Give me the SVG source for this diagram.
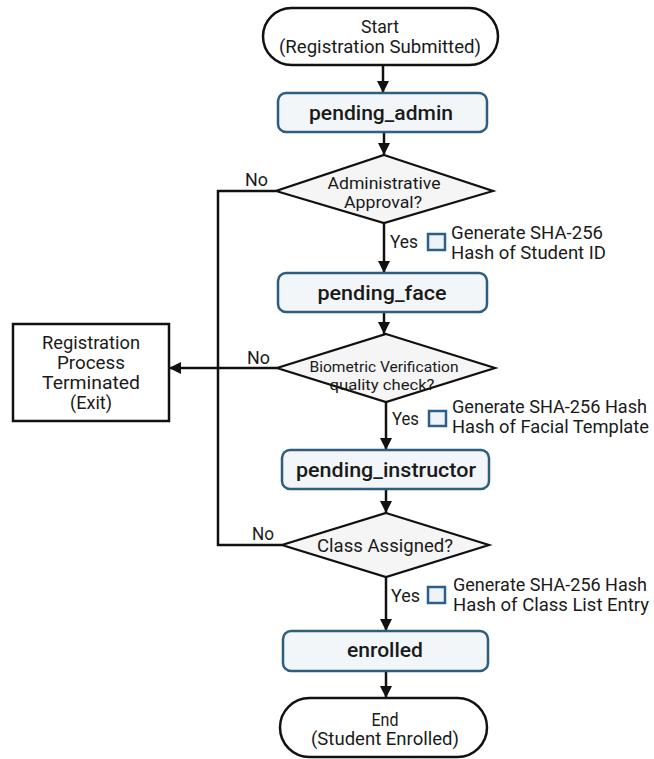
<svg xmlns="http://www.w3.org/2000/svg" width="654" height="759" viewBox="0 0 654 759">
<style>
text{font-family:Roboto,"Liberation Sans",sans-serif;fill:#1a1a1a;text-anchor:middle}
.t{font-size:18px}
.st{font-size:21px;font-weight:500}
.dq{font-size:17px}
.lb{font-size:18px;text-anchor:start}
.hs{font-size:18.5px;text-anchor:start}
.term{fill:#ffffff;stroke:#111;stroke-width:2.5}
.state{fill:#f2f6f9;stroke:#2f5d80;stroke-width:2.5}
.dia{fill:#f5f5f5;stroke:#111;stroke-width:2.2}
.box{fill:#ffffff;stroke:#111;stroke-width:2.5}
.chk{fill:#eef3f7;stroke:#2b5f8c;stroke-width:2.5}
.ln{fill:none;stroke:#111;stroke-width:2.5}
</style>
<defs>
<marker id="ah" viewBox="0 0 12 12" refX="12" refY="6" markerWidth="12" markerHeight="12" markerUnits="userSpaceOnUse" orient="auto"><path d="M0,0 L12,6 L0,12 z" fill="#111"/></marker>
</defs>
<rect width="654" height="759" fill="#ffffff"/>
<g id="connectors">
<path class="ln" d="M383,65 V93" marker-end="url(#ah)"/>
<path class="ln" d="M384,132 V155" marker-end="url(#ah)"/>
<path class="ln" d="M384,223 V273" marker-end="url(#ah)"/>
<path class="ln" d="M384,312 V334" marker-end="url(#ah)"/>
<path class="ln" d="M386,402 V450" marker-end="url(#ah)"/>
<path class="ln" d="M386,489 V513" marker-end="url(#ah)"/>
<path class="ln" d="M386,577 V631" marker-end="url(#ah)"/>
<path class="ln" d="M386,671 V698" marker-end="url(#ah)"/>
<path class="ln" d="M276,191 H218 V545 H282"/>
<path class="ln" d="M277,368 H169" marker-end="url(#ah)"/>
<text class="lb" x="245" y="186" textLength="23" lengthAdjust="spacingAndGlyphs">No</text>
<text class="lb" x="247" y="364" textLength="23" lengthAdjust="spacingAndGlyphs">No</text>
<text class="lb" x="252" y="540" textLength="22" lengthAdjust="spacingAndGlyphs">No</text>
<text class="lb" x="390" y="248" textLength="28" lengthAdjust="spacingAndGlyphs">Yes</text>
<text class="lb" x="392" y="425" textLength="27" lengthAdjust="spacingAndGlyphs">Yes</text>
<text class="lb" x="391" y="602" textLength="29" lengthAdjust="spacingAndGlyphs">Yes</text>
</g>
<g id="start">
<rect class="term" x="263" y="8" width="235" height="57" rx="28.5"/>
<text class="t" x="380" y="33" textLength="38" lengthAdjust="spacingAndGlyphs">Start</text>
<text class="t" x="380" y="53" textLength="202" lengthAdjust="spacingAndGlyphs">(Registration Submitted)</text>
</g>
<g id="pending_admin">
<rect class="state" x="278" y="93" width="209" height="39" rx="8"/>
<text class="st" x="381" y="120" textLength="144" lengthAdjust="spacingAndGlyphs">pending_admin</text>
</g>
<g id="admin_approval">
<polygon class="dia" points="384,155 493,191 384,223 276,191"/>
<text class="dq" x="384" y="189" textLength="113" lengthAdjust="spacingAndGlyphs">Administrative</text>
<text class="dq" x="383" y="208" textLength="78" lengthAdjust="spacingAndGlyphs">Approval?</text>
</g>
<g id="hash_student">
<rect class="chk" x="428" y="234" width="17" height="16"/>
<text class="hs" x="451" y="239" textLength="152" lengthAdjust="spacingAndGlyphs">Generate SHA-256</text>
<text class="hs" x="451" y="259" textLength="155" lengthAdjust="spacingAndGlyphs">Hash of Student ID</text>
</g>
<g id="pending_face">
<rect class="state" x="278" y="273" width="209" height="39" rx="8"/>
<text class="st" x="382" y="300" textLength="129" lengthAdjust="spacingAndGlyphs">pending_face</text>
</g>
<g id="biometric">
<polygon class="dia" points="386,334 495,368 386,402 277,368"/>
<text class="dq" x="384" y="372" style="font-size:15px" textLength="149" lengthAdjust="spacingAndGlyphs">Biometric Verification</text>
<text class="dq" x="382" y="390" style="font-size:15px" textLength="105" lengthAdjust="spacingAndGlyphs">quality check?</text>
</g>
<g id="terminated">
<rect class="box" x="13" y="324" width="156" height="97"/>
<text class="t" x="91" y="349" textLength="98" lengthAdjust="spacingAndGlyphs">Registration</text>
<text class="t" x="91" y="369" textLength="68" lengthAdjust="spacingAndGlyphs">Process</text>
<text class="t" x="91" y="389" textLength="98" lengthAdjust="spacingAndGlyphs">Terminated</text>
<text class="t" x="91" y="409" textLength="42" lengthAdjust="spacingAndGlyphs">(Exit)</text>
</g>
<g id="hash_face">
<rect class="chk" x="429" y="411" width="17" height="15"/>
<text class="hs" x="452" y="413" textLength="195" lengthAdjust="spacingAndGlyphs">Generate SHA-256 Hash</text>
<text class="hs" x="452" y="433" textLength="197" lengthAdjust="spacingAndGlyphs">Hash of Facial Template</text>
</g>
<g id="pending_instructor">
<rect class="state" x="282" y="450" width="207" height="39" rx="8"/>
<text class="st" x="386" y="477" textLength="180" lengthAdjust="spacingAndGlyphs">pending_instructor</text>
</g>
<g id="class_assigned">
<polygon class="dia" points="386,513 489,545 386,577 282,545"/>
<text class="dq" x="385" y="552" style="font-size:18px" textLength="136" lengthAdjust="spacingAndGlyphs">Class Assigned?</text>
</g>
<g id="hash_class">
<rect class="chk" x="428" y="587" width="17" height="16"/>
<text class="hs" x="453" y="591" textLength="194" lengthAdjust="spacingAndGlyphs">Generate SHA-256 Hash</text>
<text class="hs" x="453" y="611" textLength="196" lengthAdjust="spacingAndGlyphs">Hash of Class List Entry</text>
</g>
<g id="enrolled">
<rect class="state" x="283" y="631" width="205" height="40" rx="8"/>
<text class="st" x="385" y="657" textLength="76" lengthAdjust="spacingAndGlyphs">enrolled</text>
</g>
<g id="end">
<rect class="term" x="280" y="698" width="207" height="59" rx="29.5"/>
<text class="t" x="385" y="726" textLength="27" lengthAdjust="spacingAndGlyphs">End</text>
<text class="t" x="385" y="745" textLength="148" lengthAdjust="spacingAndGlyphs">(Student Enrolled)</text>
</g>
</svg>
